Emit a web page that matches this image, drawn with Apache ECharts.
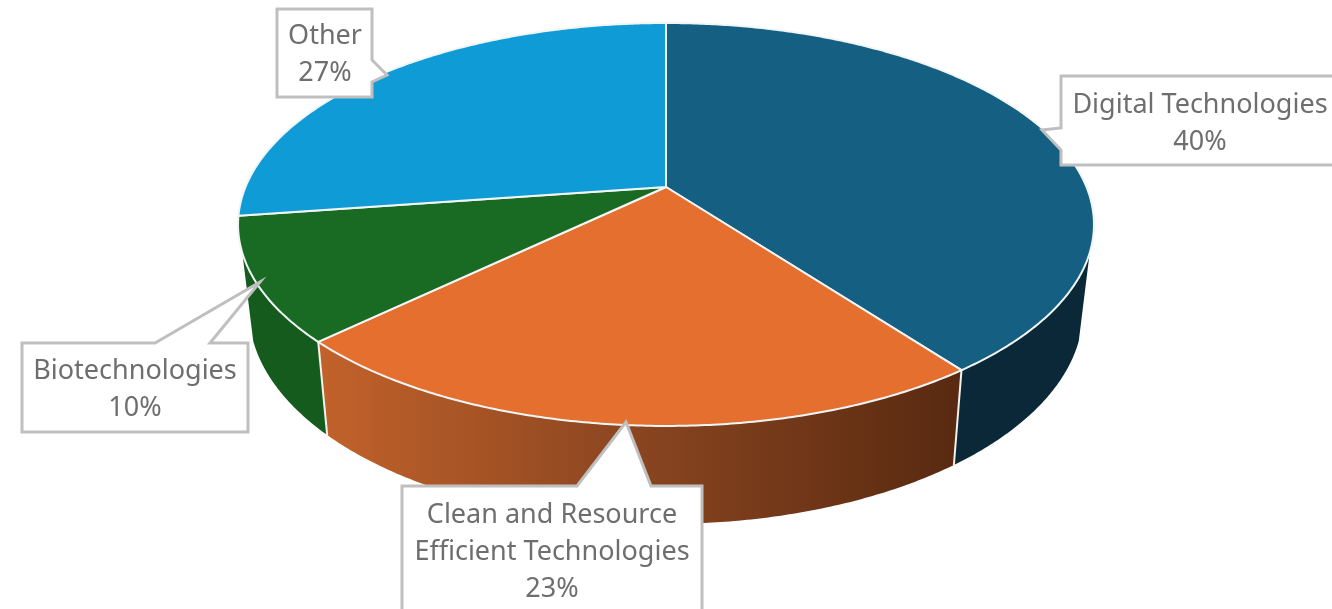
<!DOCTYPE html>
<html>
<head>
<meta charset="utf-8">
<style>html,body{margin:0;padding:0;background:#fff}#c{width:1332px;height:609px}</style>
<script src="https://cdn.jsdelivr.net/npm/echarts@6/dist/echarts.min.js"></script>
</head>
<body>
<div id="c"></div>
<script>
// ---- data ----
const categories = ['Digital Technologies', 'Clean and Resource\nEfficient Technologies', 'Biotechnologies', 'Other'];
const shares = [39.8, 23.0, 9.9, 27.3];
const topColors = ['#156082', '#E56F2F', '#196B24', '#0F9BD5'];

// ---- layout / style ----
const FONT = '"Noto Sans", sans-serif';
const FONT_SIZE = 27, LINE_H = 37, TEXT_COLOR = '#6e6e6e', BORDER = '#bfbfbf';
const topDisc = { cx: 666, cy: 187, a: 420.5, b: 194.5, k: 0.186 };
const bottomDisc = { cx: 666, cy: 271.3, a: 409.7, b: 205.6, k: 0.186 };
const WALL_MIN_V = 0.319; // side wall becomes visible below this depth
const wallFills = [
  '#0A2838',
  new echarts.graphic.LinearGradient(318, 0, 954, 0, [
    { offset: 0, color: '#C2622B' }, { offset: 0.5, color: '#8A4520' }, { offset: 1, color: '#592A11' }
  ], true),
  '#155B1E',
  '#0B7AA6'
];
const callouts = [
  { box: [1061, 76, 1340, 165], ptr: [[1061, 128], [1042, 130], [1061, 150]], side: 'l', cx: 1200, y: 105.5 },
  { box: [402, 486, 702, 625], ptr: [[577, 486], [626, 422], [651, 486]], side: 't', cx: 552, y: 515.5 },
  { box: [22, 343, 248, 432], ptr: [[155, 343], [260, 282], [210, 343]], side: 't', cx: 135, y: 371.5 },
  { box: [277, 9, 372, 97], ptr: [[372, 60], [387, 75], [372, 82]], side: 'r', cx: 325, y: 36.5 }
];

// ---- helpers ----
const total = shares.reduce((s, v) => s + v, 0);
const spans = [];
shares.reduce((acc, v) => { spans.push([acc / total * 360, (acc + v) / total * 360]); return acc + v; }, 0);
function project(d, deg) {
  const t = deg * Math.PI / 180, u = Math.sin(t), v = -Math.cos(t), w = 1 - d.k * v;
  return [d.cx + d.a * u / w, d.cy + d.b * v / w];
}
function arc(d, from, to) {
  const pts = [], n = Math.max(2, Math.ceil(Math.abs(to - from) * 2));
  for (let i = 0; i <= n; i++) pts.push(project(d, from + (to - from) * i / n));
  return pts;
}
const minAngle = Math.acos(-WALL_MIN_V) * 180 / Math.PI; // right side limit
const maxAngle = 360 - minAngle;                         // left side limit

const seriesData = shares.map((v, i) => ({ name: categories[i], value: v }));

const walls = {
  type: 'custom', coordinateSystem: 'none', data: seriesData, silent: true, z: 1,
  renderItem(params) {
    const i = params.dataIndex;
    const a = Math.max(spans[i][0], minAngle), b = Math.min(spans[i][1], maxAngle);
    if (b <= a) return { type: 'group', children: [] };
    const pts = arc(topDisc, a, b).concat(arc(bottomDisc, b, a));
    return { type: 'polygon', shape: { points: pts }, style: { fill: wallFills[i], lineWidth: 0 } };
  }
};
const wallEdges = {
  type: 'custom', coordinateSystem: 'none', data: seriesData, silent: true, z: 2,
  renderItem(params) {
    const e = spans[params.dataIndex][1];
    if (e < minAngle || e > maxAngle) return { type: 'group', children: [] };
    const p = project(topDisc, e), q = project(bottomDisc, e);
    return { type: 'line', shape: { x1: p[0], y1: p[1], x2: q[0], y2: q[1] }, style: { stroke: '#f4f1ee', lineWidth: 2 } };
  }
};
const tops = {
  type: 'custom', coordinateSystem: 'none', data: seriesData, silent: true, z: 3,
  renderItem(params) {
    const i = params.dataIndex;
    const pts = [[topDisc.cx, topDisc.cy]].concat(arc(topDisc, spans[i][0], spans[i][1]));
    return { type: 'polygon', shape: { points: pts }, style: { fill: topColors[i], stroke: '#f2f5f6', lineWidth: 2, lineJoin: 'round' } };
  }
};
const labels = {
  type: 'custom', coordinateSystem: 'none', data: seriesData, silent: true, z: 4,
  renderItem(params) {
    const i = params.dataIndex, c = callouts[i], [x0, y0, x1, y1] = c.box;
    let outline;
    if (c.side === 'l') outline = [[x0, y0], [x1, y0], [x1, y1], [x0, y1]].concat(c.ptr.slice().reverse());
    if (c.side === 't') outline = [[x0, y0]].concat(c.ptr, [[x1, y0], [x1, y1], [x0, y1]]);
    if (c.side === 'r') outline = [[x0, y0], [x1, y0]].concat(c.ptr, [[x1, y1], [x0, y1]]);
    const lines = categories[i].split('\n').concat([Math.round(shares[i] / total * 100) + '%']);
    return {
      type: 'group',
      children: [{
        type: 'polygon', shape: { points: outline },
        style: { fill: '#fff', stroke: BORDER, lineWidth: 3, lineJoin: 'miter' }
      }].concat(lines.map((t, j) => ({
        type: 'text',
        style: {
          text: t, x: c.cx, y: c.y + j * LINE_H, fill: TEXT_COLOR,
          font: FONT_SIZE + 'px ' + FONT, textAlign: 'center', textVerticalAlign: 'middle'
        }
      })))
    };
  }
};

const chart = echarts.init(document.getElementById('c'), null, { renderer: 'canvas' });
chart.setOption({
  animation: false,
  backgroundColor: '#ffffff',
  series: [walls, wallEdges, tops, labels]
});
</script>
</body>
</html>
